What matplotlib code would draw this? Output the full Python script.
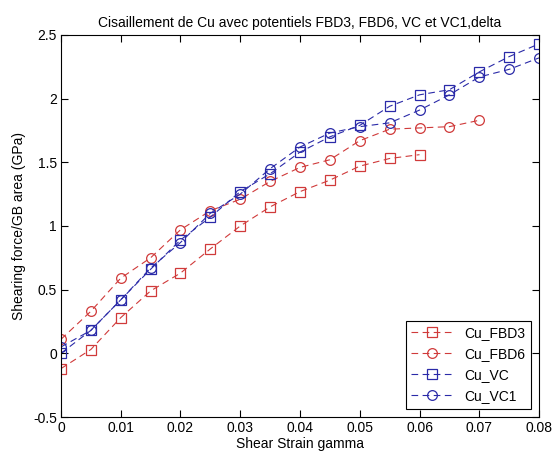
import numpy as np
import matplotlib.pyplot as plt

plt.rcParams['font.family'] = ['Liberation Sans', 'DejaVu Sans']

# shear strain values
x_fbd3 = [0, 0.005, 0.01, 0.015, 0.02, 0.025, 0.03, 0.035, 0.04, 0.045, 0.05, 0.055, 0.06]
x_fbd6 = [0, 0.005, 0.01, 0.015, 0.02, 0.025, 0.03, 0.035, 0.04, 0.045, 0.05, 0.055, 0.06,
          0.065, 0.07]
x_vc = [0, 0.005, 0.01, 0.015, 0.02, 0.025, 0.03, 0.035, 0.04, 0.045, 0.05, 0.055, 0.06,
        0.065, 0.07, 0.075, 0.08]

# shearing force / GB area (GPa)
y_fbd3 = [-0.12, 0.03, 0.28, 0.49, 0.63, 0.82, 1.0, 1.15, 1.27, 1.36, 1.47, 1.53, 1.56]
y_fbd6 = [0.11, 0.33, 0.59, 0.75, 0.97, 1.12, 1.21, 1.35, 1.46, 1.52, 1.67, 1.76, 1.77,
          1.78, 1.83]
y_vc = [0.0, 0.18, 0.42, 0.66, 0.89, 1.07, 1.27, 1.41, 1.58, 1.70, 1.79, 1.94, 2.03,
        2.07, 2.21, 2.33, 2.43]
y_vc1 = [0.05, 0.18, 0.42, 0.67, 0.87, 1.10, 1.25, 1.45, 1.62, 1.73, 1.78, 1.81, 1.91,
         2.03, 2.17, 2.23, 2.32]

red = '#d03a3a'
blue = '#2a2aa8'

fig = plt.figure(figsize=(5.54, 4.57), dpi=100)
ax = fig.add_axes([0.110, 0.0875, 0.863, 0.836])

kw = dict(linestyle=(0, (6, 4)), linewidth=0.8, markersize=7, markerfacecolor='none',
          markeredgewidth=0.9)
ax.plot(x_fbd3, y_fbd3, marker='s', color=red, label='Cu_FBD3', **kw)
ax.plot(x_fbd6, y_fbd6, marker='o', color=red, label='Cu_FBD6', **kw)
ax.plot(x_vc, y_vc, marker='s', color=blue, label='Cu_VC', **kw)
ax.plot(x_vc, y_vc1, marker='o', color=blue, label='Cu_VC1', **kw)

ax.set_xlim(0, 0.08)
ax.set_ylim(-0.5, 2.5)
ax.set_xticks(np.arange(0, 0.081, 0.01))
ax.set_xticklabels(['0', '0.01', '0.02', '0.03', '0.04', '0.05', '0.06', '0.07', '0.08'])
ax.set_yticks(np.arange(-0.5, 2.51, 0.5))
ax.set_yticklabels(['-0.5', '0', '0.5', '1', '1.5', '2', '2.5'])
ax.tick_params(direction='in', top=True, right=True, labelsize=10, length=5, pad=3)

ax.set_xlabel('Shear Strain gamma', fontsize=10, labelpad=1)
ax.set_ylabel('Shearing force/GB area (GPa)', fontsize=10, labelpad=5)
ax.set_title('Cisaillement de Cu avec potentiels FBD3, FBD6, VC et VC1,delta',
             fontsize=10, pad=6)

leg = ax.legend(loc='lower right', fontsize=10, fancybox=False, framealpha=1,
                edgecolor='black', borderaxespad=0.6, handlelength=3,
                labelspacing=0.5, borderpad=0.4)
leg.get_frame().set_linewidth(0.8)

fig.savefig('out.png', dpi=100)
